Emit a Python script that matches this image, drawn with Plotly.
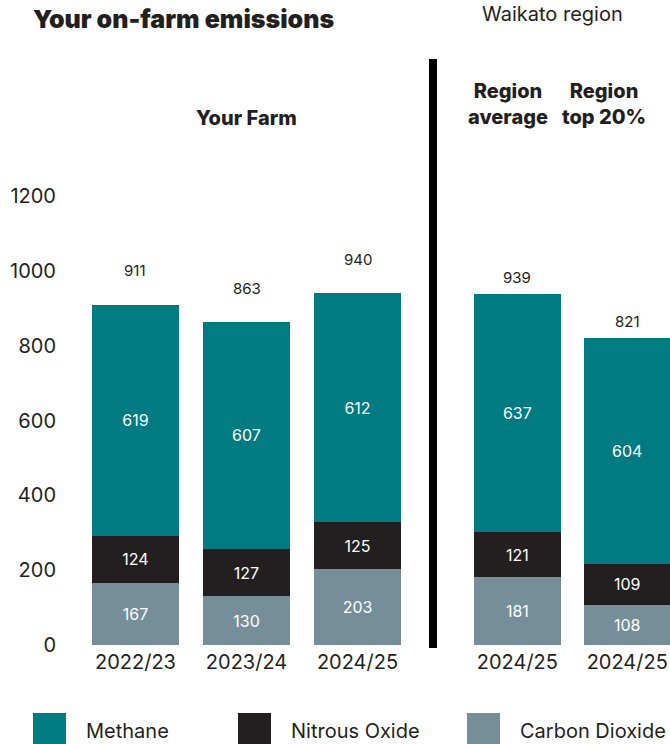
import plotly.graph_objects as go

# data
periods = ["2022/23", "2023/24", "2024/25", "2024/25", "2024/25"]
groups = ["farm", "farm", "farm", "region", "region"]
carbon_dioxide = [167, 130, 203, 181, 108]
nitrous_oxide = [124, 127, 125, 121, 109]
methane = [619, 607, 612, 637, 604]
totals = [911, 863, 940, 939, 821]

series = [
    ("Carbon Dioxide", carbon_dioxide, "#768e99"),
    ("Nitrous Oxide", nitrous_oxide, "#231f20"),
    ("Methane", methane, "#007b82"),
]
legend_order = ["Methane", "Nitrous Oxide", "Carbon Dioxide"]
colors = {name: c for name, _, c in series}

FONT = "Inter"
INK = "#231f20"
W, H = 670, 744
ML, MR, MT, MB = 62, 0, 196, 99

# bar positions: farm bars one slot apart, region bars shifted right after the divider
region_gap = 0.44
x_pos = [i + (region_gap if g == "region" else 0) - (0.01 if i == 4 else 0)
         for i, g in enumerate(groups)]


def px_x(px):
    # pixel -> paper x
    return (px - ML) / (W - ML - MR)


def px_y(py):
    # pixel -> paper y
    return (H - MB - py) / (H - MT - MB)


fig = go.Figure()
for name, vals, col in series:
    fig.add_trace(go.Bar(
        x=x_pos, y=vals, name=name, marker=dict(color=col, line=dict(width=0)),
        width=0.78, text=vals, texttemplate="%{text}", textposition="inside",
        insidetextanchor="middle", textangle=0, constraintext="none",
        insidetextfont=dict(color="white", size=16, family=FONT),
        showlegend=False, hoverinfo="skip",
    ))

# totals above bars
for x, t, g in zip(x_pos, totals, groups):
    fig.add_annotation(x=x, y=t, text=str(t), showarrow=False, yanchor="middle",
                       yshift=34 if g == "farm" else 16,
                       font=dict(size=15, color=INK, family=FONT))

# headings
fig.add_annotation(xref="paper", yref="paper", x=px_x(31), y=px_y(19),
                   xanchor="left", yanchor="middle", showarrow=False,
                   text="Your on-farm emissions",
                   font=dict(size=25, color=INK, family=FONT, weight=900))
fig.add_annotation(xref="paper", yref="paper", x=px_x(552), y=px_y(14),
                   xanchor="center", yanchor="middle", showarrow=False,
                   text="Waikato region", font=dict(size=20, color=INK, family=FONT))
fig.add_annotation(x=1, xref="x", yref="paper", y=px_y(118), showarrow=False,
                   xanchor="center", yanchor="middle",
                   text="Your Farm", font=dict(size=20, color=INK, family=FONT, weight=800))
fig.add_annotation(xref="paper", yref="paper", x=px_x(508), y=px_y(104),
                   xanchor="center", yanchor="middle",
                   showarrow=False, text="Region<br>average",
                   font=dict(size=20, color=INK, family=FONT, weight=800))
fig.add_annotation(xref="paper", yref="paper", x=px_x(604), y=px_y(104),
                   xanchor="center", yanchor="middle",
                   showarrow=False, text="Region<br>top 20%",
                   font=dict(size=20, color=INK, family=FONT, weight=800))

# divider between farm and region
fig.add_shape(type="line", xref="paper", yref="paper",
              x0=px_x(433), x1=px_x(433), y0=px_y(59), y1=px_y(648),
              line=dict(color="black", width=8))

# legend drawn by hand (big square swatches)
legend_x = [33, 238, 467]
for lx, name in zip(legend_x, legend_order):
    fig.add_shape(type="rect", xref="paper", yref="paper",
                  x0=px_x(lx), x1=px_x(lx + 33), y0=px_y(713), y1=px_y(746),
                  fillcolor=colors[name], line=dict(width=0))
    fig.add_annotation(xref="paper", yref="paper", x=px_x(lx + 51), y=px_y(731),
                       xanchor="left", yanchor="middle", showarrow=False, text=name,
                       font=dict(size=20, color=INK, family=FONT))

fig.update_layout(
    width=W, height=H, barmode="stack",
    margin=dict(l=ML, r=MR, t=MT, b=MB, pad=0),
    plot_bgcolor="white", paper_bgcolor="white",
    font=dict(family=FONT, color=INK),
    xaxis=dict(range=[-0.662, 4.815], tickmode="array", tickvals=x_pos,
               ticktext=periods, showgrid=False, zeroline=False, showline=False,
               ticks="", ticklabelstandoff=3,
               tickfont=dict(size=20, color=INK, family=FONT)),
    yaxis=dict(range=[0, 1200], tickmode="array", tickvals=list(range(0, 1201, 200)),
               showgrid=False, zeroline=False, showline=False, ticks="",
               ticklabelstandoff=5,
               tickfont=dict(size=20, color=INK, family=FONT)),
)

# drop the default 8px page margin so the figure fills the window
fig.write_html("out.html", config={"displayModeBar": False},
               post_script="document.body.style.margin = '0';")
